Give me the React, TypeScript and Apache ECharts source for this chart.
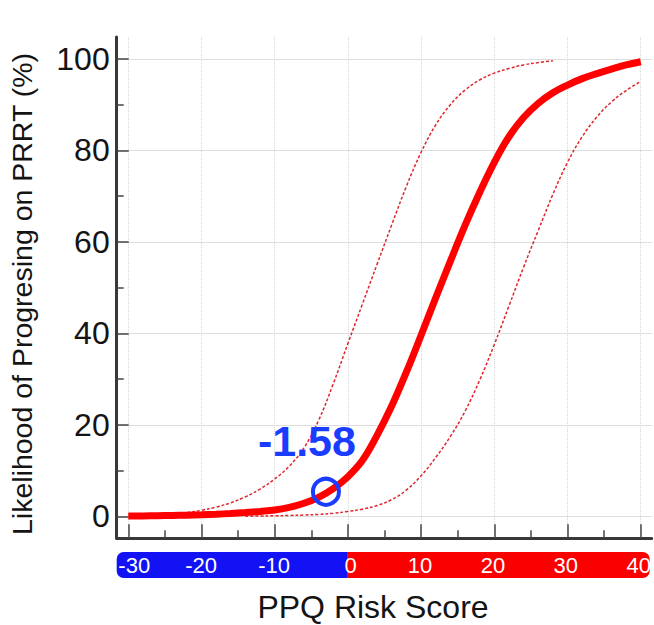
import React, { useEffect, useRef } from "react";
import * as echarts from "echarts";

// ---- axis ranges & ticks ----
const X_MIN = -31.58;
const X_MAX = 41.5;
const Y_MIN = -4.77;
const Y_MAX = 104.8;
const xMajorTicks = [-30, -20, -10, 0, 10, 20, 30, 40];
const xMinorTicks = [-25, -15, -5, 5, 15, 25, 35];
const yMajorTicks = [0, 20, 40, 60, 80, 100];
const yMinorTicks = [10, 30, 50, 70, 90];
const scaleLabels = [-30, -20, -10, 0, 10, 20, 30, 40];

// ---- curves ----
const mainX = [-30, -28, -26, -24, -22, -20, -18, -16, -14, -12, -10, -8, -6, -4, -2, 0, 2, 4, 6, 8, 10, 12, 14, 16, 18, 20, 22, 24, 26, 28, 30, 32, 34, 36, 38, 40];
const mainY = [0.1, 0.13, 0.17, 0.22, 0.29, 0.38, 0.5, 0.65, 0.85, 1.1, 1.4, 2.0, 2.9, 4.2, 6.1, 8.7, 12.3, 17.8, 24.2, 31.6, 39.6, 47.8, 55.8, 63.6, 70.8, 77.4, 83.0, 87.2, 90.3, 92.6, 94.3, 95.7, 96.8, 97.8, 98.7, 99.4];

const upperX = [-24, -22, -20, -18, -16, -14, -12, -10, -8, -6, -4, -2, 0, 2, 4, 6, 8, 10, 12, 14, 16, 18, 20, 22, 24, 26, 28];
const upperY = [0.5, 0.85, 1.35, 2.05, 3.0, 4.3, 6.0, 8.2, 11.0, 15.0, 21.0, 29.0, 37.8, 46.5, 55.2, 63.8, 72.2, 79.6, 85.6, 90.0, 93.2, 95.4, 96.9, 97.9, 98.7, 99.2, 99.6];

const lowerX = [-14, -12, -10, -8, -6, -4, -2, 0, 2, 4, 6, 8, 10, 12, 14, 16, 18, 20, 22, 24, 26, 28, 30, 32, 34, 36, 38, 40];
const lowerY = [0.05, 0.1, 0.15, 0.22, 0.32, 0.45, 0.7, 1.1, 1.6, 2.4, 3.7, 5.8, 8.9, 12.9, 17.5, 23.0, 29.8, 37.6, 46.0, 54.5, 62.5, 70.4, 77.4, 83.0, 87.3, 90.6, 93.1, 95.1];

// ---- highlighted patient ----
const markerScore = "-1.58";
const markerPoint = [-3, 5.4];

// ---- colour scale segments (negative / positive) ----
const scaleSegments = [X_MIN, X_MAX];

const FONT = "'Liberation Sans', Arial, Helvetica, sans-serif";
const zip = (xs: number[], ys: number[]) => xs.map((x, i) => [x, ys[i]]);

export default function App() {
  const ref = useRef<HTMLDivElement>(null);
  useEffect(() => {
    const chart = echarts.init(ref.current!, null, { renderer: "svg" });
    const option: any = {
      animation: false,
      backgroundColor: "#ffffff",
      textStyle: { fontFamily: FONT },
      grid: [
        { left: 116.7, top: 37, width: 535, height: 501.3, containLabel: false },
        { left: 116.7, top: 552, width: 535, height: 26, containLabel: false },
      ],
      xAxis: [
        {
          gridIndex: 0,
          type: "value",
          position: "bottom",
          min: X_MIN,
          max: X_MAX,
          axisLine: { show: true, onZero: false, lineStyle: { color: "#383838", width: 3 } },
          axisTick: { show: true, inside: true, length: 14, customValues: xMajorTicks, lineStyle: { color: "#444", width: 1.5 } },
          axisLabel: { show: false },
          splitLine: { show: true, lineStyle: { color: "#d6d6d6", width: 1, type: "dotted" } },
        },
        {
          gridIndex: 0,
          type: "value",
          position: "bottom",
          min: X_MIN,
          max: X_MAX,
          axisLine: { show: false, onZero: false },
          axisTick: { show: true, inside: true, length: 8, customValues: xMinorTicks, lineStyle: { color: "#444", width: 1.5 } },
          axisLabel: { show: false },
          splitLine: { show: false },
        },
        {
          gridIndex: 1,
          type: "value",
          position: "bottom",
          min: X_MIN,
          max: X_MAX,
          z: 10,
          axisLine: { show: false, onZero: false },
          axisTick: { show: false },
          splitLine: { show: false },
          axisLabel: {
            show: true,
            customValues: scaleLabels,
            margin: -13,
            verticalAlign: "middle",
            color: "#ffffff",
            fontSize: 22,
            fontFamily: FONT,
            formatter: (v: number) => (v === -30 ? `{s|${v}}` : v === 0 ? `{z|${v}}` : `{n|${v}}`),
            rich: {
              s: { padding: [0, 0, 0, 12], color: "#ffffff", fontSize: 22, fontFamily: FONT },
              z: { padding: [0, 0, 0, 7], color: "#ffffff", fontSize: 22, fontFamily: FONT },
              n: { color: "#ffffff", fontSize: 22, fontFamily: FONT },
            },
          },
        },
      ],
      yAxis: [
        {
          gridIndex: 0,
          type: "value",
          position: "left",
          min: Y_MIN,
          max: Y_MAX,
          axisLine: { show: true, onZero: false, lineStyle: { color: "#383838", width: 3 } },
          axisTick: { show: true, inside: true, length: 12, customValues: yMajorTicks, lineStyle: { color: "#444", width: 1.5 } },
          axisLabel: { show: true, customValues: yMajorTicks, margin: 7, fontSize: 32, color: "#141414", fontFamily: FONT },
          splitLine: { show: true, lineStyle: { color: "#dedede", width: 1, type: "solid" } },
        },
        {
          gridIndex: 0,
          type: "value",
          position: "left",
          min: Y_MIN,
          max: Y_MAX,
          axisLine: { show: false, onZero: false },
          axisTick: { show: true, inside: true, length: 7, customValues: yMinorTicks, lineStyle: { color: "#444", width: 1.5 } },
          axisLabel: { show: false },
          splitLine: { show: false },
        },
        {
          gridIndex: 1,
          type: "category",
          data: ["scale"],
          show: false,
        },
      ],
      series: [
        {
          type: "bar",
          xAxisIndex: 2,
          yAxisIndex: 2,
          data: [scaleSegments[0]],
          barWidth: "100%",
          barGap: "-100%",
          z: 1,
          itemStyle: { color: "#1212f4", borderRadius: [7, 0, 0, 7] },
          silent: true,
        },
        {
          type: "bar",
          xAxisIndex: 2,
          yAxisIndex: 2,
          data: [scaleSegments[1]],
          barWidth: "100%",
          barGap: "-100%",
          z: 1,
          itemStyle: { color: "#fa0000", borderRadius: [0, 7, 7, 0] },
          silent: true,
        },
        {
          type: "line",
          xAxisIndex: 0,
          yAxisIndex: 0,
          data: zip(upperX, upperY),
          smooth: 0.4,
          showSymbol: false,
          lineStyle: { color: "#e0262c", width: 1.5, type: [3, 2] },
        },
        {
          type: "line",
          xAxisIndex: 0,
          yAxisIndex: 0,
          data: zip(lowerX, lowerY),
          smooth: 0.4,
          showSymbol: false,
          lineStyle: { color: "#e0262c", width: 1.5, type: [3, 2] },
        },
        {
          type: "line",
          xAxisIndex: 0,
          yAxisIndex: 0,
          data: zip(mainX, mainY),
          smooth: 0.4,
          showSymbol: false,
          lineStyle: { color: "#ff0000", width: 7 },
        },
        {
          type: "scatter",
          xAxisIndex: 0,
          yAxisIndex: 0,
          data: [markerPoint],
          symbol: "circle",
          symbolSize: 26,
          itemStyle: { color: "rgba(0,0,0,0)", borderColor: "#1a3cff", borderWidth: 4, opacity: 1 },
          label: {
            show: true,
            formatter: markerScore,
            position: "top",
            distance: 14,
            offset: [-19, 0],
            color: "#1a3cff",
            opacity: 1,
            fontSize: 43,
            lineHeight: 43,
            fontWeight: "bold",
            fontFamily: FONT,
          },
          z: 10,
        },
      ],
      graphic: [
        {
          type: "text",
          x: 22,
          y: 294,
          rotation: Math.PI / 2,
          style: {
            text: "Likelihood of Progresing on PRRT (%)",
            fontSize: 28.5,
            fontFamily: FONT,
            fill: "#141414",
            textAlign: "center",
            textVerticalAlign: "middle",
          },
        },
        {
          type: "text",
          x: 373,
          y: 607,
          style: {
            text: "PPQ Risk Score",
            fontSize: 32,
            fontFamily: FONT,
            fill: "#141414",
            textAlign: "center",
            textVerticalAlign: "middle",
          },
        },
      ],
    };
    chart.setOption(option);
    return () => chart.dispose();
  }, []);
  return (
    <div
      ref={ref}
      style={{ position: "absolute", left: 0, top: 0, width: 654, height: 625, background: "#fff" }}
    />
  );
}
